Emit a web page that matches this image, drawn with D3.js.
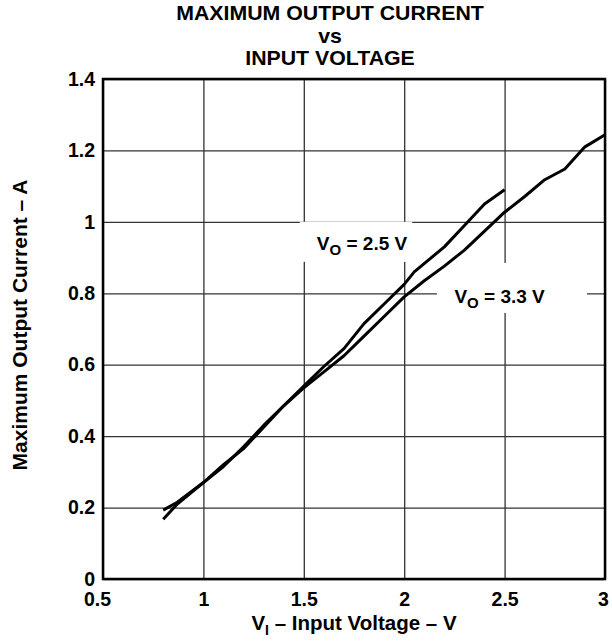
<!DOCTYPE html>
<html>
<head>
<meta charset="utf-8">
<script src="https://cdn.jsdelivr.net/npm/d3@7"></script>
<style>
  body { margin: 0; background: #fff; }
  svg { font-family: "Liberation Sans", Arial, sans-serif; font-weight: bold; }
</style>
</head>
<body>
<script>
// data
var titleLines = ['MAXIMUM OUTPUT CURRENT', 'vs', 'INPUT VOLTAGE'];
var xTicks = [0.5, 1, 1.5, 2, 2.5, 3];
var yTicks = [0, 0.2, 0.4, 0.6, 0.8, 1, 1.2, 1.4];

var vIn25 = [0.8, 0.87, 1.0, 1.1, 1.2, 1.3, 1.4, 1.5, 1.6, 1.7, 1.8, 1.9, 2.0, 2.05, 2.2, 2.3, 2.4, 2.5];
var iOut25 = [0.167, 0.21, 0.27, 0.32, 0.365, 0.425, 0.485, 0.54, 0.595, 0.645, 0.715, 0.77, 0.825, 0.86, 0.93, 0.99, 1.05, 1.09];

var vIn33 = [0.8, 0.87, 1.0, 1.1, 1.2, 1.3, 1.4, 1.5, 1.6, 1.7, 1.8, 1.9, 2.0, 2.1, 2.2, 2.3, 2.4, 2.5, 2.6, 2.7, 2.8, 2.9, 3.0];
var iOut33 = [0.193, 0.215, 0.27, 0.315, 0.37, 0.43, 0.485, 0.535, 0.58, 0.625, 0.68, 0.735, 0.79, 0.835, 0.876, 0.921, 0.974, 1.027, 1.071, 1.118, 1.148, 1.21, 1.244];

var margin = {top: 79, left: 103, right: 7, bottom: 65};
var width = 612, height = 644;
var w = width - margin.left - margin.right;
var h = height - margin.top - margin.bottom;

var svg = d3.select(document.body).append('svg')
    .attr('width', width)
    .attr('height', height);

var x = d3.scaleLinear().domain([0.5, 3]).range([0, w]);
var y = d3.scaleLinear().domain([0, 1.4]).range([h, 0]);

var g = svg.append('g').attr('transform', 'translate(' + margin.left + ',' + margin.top + ')');

// grid
g.append('g')
    .attr('transform', 'translate(0,' + h + ')')
    .call(d3.axisBottom(x).tickValues(xTicks).tickSize(-h).tickFormat(''))
    .call(function(a){
        a.select('.domain').remove();
        a.selectAll('line').attr('stroke', '#333').attr('stroke-width', 1.3);
    });
g.append('g')
    .call(d3.axisLeft(y).tickValues(yTicks).tickSize(-w).tickFormat(''))
    .call(function(a){
        a.select('.domain').remove();
        a.selectAll('line').attr('stroke', '#333').attr('stroke-width', 1.3);
    });

// tick labels
var xl = g.append('g')
    .attr('transform', 'translate(0,' + h + ')')
    .call(d3.axisBottom(x).tickValues(xTicks).tickSize(0).tickFormat(d3.format('')));
xl.select('.domain').remove();
xl.selectAll('text').attr('font-size', 19.5).attr('font-family', null).attr('fill', '#000')
    .attr('y', 27).attr('dy', null)
    .attr('dx', function(d){ return d === 0.5 ? -6 : (d === 3 ? -2 : 0); });

var yl = g.append('g')
    .call(d3.axisLeft(y).tickValues(yTicks).tickSize(0).tickPadding(8).tickFormat(d3.format('')));
yl.select('.domain').remove();
yl.selectAll('text').attr('font-size', 19.5).attr('font-family', null).attr('fill', '#000');

// curves
var line = d3.line()
    .x(function(d){ return x(d[0]); })
    .y(function(d){ return y(d[1]); });

var s25 = d3.zip(vIn25, iOut25);
var s33 = d3.zip(vIn33, iOut33);

// curve labels with white boxes that cut the grid
function curveLabel(cx, cy, vo, box){
    g.append('rect')
        .attr('x', x(box[0])).attr('y', y(box[3]))
        .attr('width', x(box[1]) - x(box[0]))
        .attr('height', y(box[2]) - y(box[3]))
        .attr('fill', '#fff');
    var t = g.append('text')
        .attr('x', x(cx)).attr('y', y(cy))
        .attr('text-anchor', 'middle')
        .attr('font-size', 19);
    t.append('tspan').text('V');
    t.append('tspan').attr('dy', 5).attr('font-size', 15).text('O');
    t.append('tspan').attr('dy', -5).text(' = ' + vo + ' V');
}
curveLabel(1.79, 0.921, '2.5', [1.48, 2.04, 0.888, 1.0]);
curveLabel(2.475, 0.773, '3.3', [2.163, 2.91, 0.745, 0.885]);

g.append('path').datum(s25).attr('d', line)
    .attr('fill', 'none').attr('stroke', '#000').attr('stroke-width', 3).attr('stroke-linejoin', 'round');
g.append('path').datum(s33).attr('d', line)
    .attr('fill', 'none').attr('stroke', '#000').attr('stroke-width', 3).attr('stroke-linejoin', 'round');

// frame
g.append('rect')
    .attr('width', w).attr('height', h)
    .attr('fill', 'none').attr('stroke', '#000').attr('stroke-width', 2.5);

// titles
svg.append('g')
    .attr('transform', 'translate(330,0) scale(1.065,1)')
    .selectAll('text').data(titleLines).enter()
    .append('text')
    .attr('text-anchor', 'middle')
    .attr('font-size', 20)
    .attr('x', 0)
    .attr('y', function(d, i){ return 20.5 + i * 22.5; })
    .text(function(d){ return d; });

var xt = svg.append('text')
    .attr('x', margin.left + w / 2).attr('y', 630)
    .attr('text-anchor', 'middle').attr('font-size', 20.5);
xt.append('tspan').text('V');
xt.append('tspan').attr('dy', 5).attr('font-size', 14).text('I');
xt.append('tspan').attr('dy', -5).text(' – Input Voltage – V');

svg.append('text')
    .attr('transform', 'translate(27,325) rotate(-90)')
    .attr('text-anchor', 'middle').attr('font-size', 21)
    .text('Maximum Output Current – A');
</script>
</body>
</html>
